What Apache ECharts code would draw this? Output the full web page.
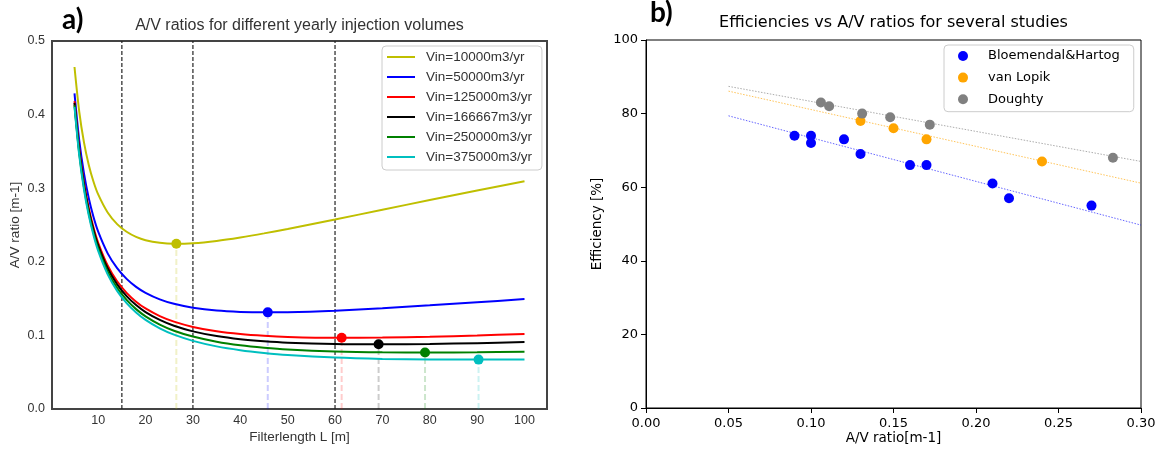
<!DOCTYPE html>
<html><head><meta charset="utf-8">
<script src="https://cdn.jsdelivr.net/npm/echarts@6/dist/echarts.min.js"></script>
<style>html,body{margin:0;padding:0;background:#fff}#c{width:1160px;height:457px}</style>
</head><body><div id="c"></div>
<script>
// ---------- Panel a) data ----------
const filterLength = [5,6,7,8,9,10,12,14,16,18,20,23,26,30,35,40,45,50,60,70,80,90,100];
const volumeNames = ['Vin=10000m3/yr','Vin=50000m3/yr','Vin=125000m3/yr','Vin=166667m3/yr','Vin=250000m3/yr','Vin=375000m3/yr'];
const av10000  = [0.4647,0.4042,0.3623,0.3319,0.3091,0.2915,0.2669,0.2512,0.2408,0.2339,0.2294,0.2258,0.2245,0.2252,0.2284,0.2331,0.2386,0.2447,0.2575,0.2707,0.2839,0.2968,0.3094];
const av50000  = [0.4289,0.3650,0.3200,0.2866,0.2611,0.2409,0.2115,0.1913,0.1768,0.1660,0.1579,0.1490,0.1429,0.1376,0.1337,0.1319,0.1313,0.1315,0.1336,0.1369,0.1408,0.1450,0.1494];
const av125000 = [0.4183,0.3534,0.3074,0.2732,0.2468,0.2259,0.1950,0.1735,0.1578,0.1458,0.1366,0.1262,0.1187,0.1115,0.1056,0.1018,0.0994,0.0979,0.0967,0.0971,0.0982,0.0999,0.1019];
const av166667 = [0.4159,0.3507,0.3045,0.2701,0.2435,0.2224,0.1912,0.1694,0.1534,0.1412,0.1317,0.1210,0.1131,0.1055,0.0991,0.0948,0.0920,0.0901,0.0883,0.0879,0.0884,0.0895,0.0909];
const av250000 = [0.4129,0.3475,0.3010,0.2664,0.2396,0.2183,0.1867,0.1645,0.1482,0.1357,0.1259,0.1147,0.1064,0.0984,0.0914,0.0866,0.0833,0.0809,0.0782,0.0770,0.0768,0.0771,0.0779];
const av375000 = [0.4106,0.3449,0.2982,0.2634,0.2364,0.2149,0.1830,0.1605,0.1439,0.1312,0.1211,0.1096,0.1010,0.0926,0.0851,0.0799,0.0762,0.0734,0.0699,0.0681,0.0673,0.0671,0.0673];
const minL  = [26.5,45.8,61.4,69.2,79.0,90.3];
const minAV = [0.2245,0.1313,0.0967,0.0879,0.0768,0.0671];
const refLines = [15,30,60];
const xTicksA = [10,20,30,40,50,60,70,80,90,100];

// ---------- Panel b) data ----------
const studyNames = ['Bloemendal&Hartog','van Lopik','Doughty'];
const bhAV  = [0.09,0.10,0.10,0.12,0.13,0.16,0.17,0.21,0.22,0.27];
const bhEff = [74,74,72,73,69,66,66,61,57,55];
const vlAV  = [0.13,0.15,0.17,0.24];
const vlEff = [78,76,73,67];
const dAV   = [0.106,0.111,0.131,0.148,0.172,0.283];
const dEff  = [83,82,80,79,77,68];
const trendAV = [0.05,0.30];
const bhTrend = [79.4,49.7];
const vlTrend = [86.1,61.1];
const dTrend  = [87.4,67.0];

// ---------- build ----------
const colorsA = ['#bfbf00','#0000ff','#ff0000','#000000','#008000','#00bfbf'];
const fadedA  = ['rgba(191,191,0,0.22)','rgba(0,0,255,0.2)','rgba(255,0,0,0.2)','rgba(0,0,0,0.2)','rgba(0,128,0,0.2)','rgba(0,191,191,0.2)'];
const avSets = [av10000,av50000,av125000,av166667,av250000,av375000];
const zip = (xs, ys) => xs.map((x,i)=>[x, ys[i]]);
const FA = 'Liberation Sans', FB = 'DejaVu Sans';

const series = [];
refLines.forEach(x => series.push({
  type:'line', xAxisIndex:0, yAxisIndex:0, data:[[x,0],[x,0.5]], showSymbol:false, silent:true,
  lineStyle:{color:'#222', width:1.2, type:[4,2]}, z:1
}));
minL.forEach((x,i) => series.push({
  type:'line', xAxisIndex:0, yAxisIndex:0, data:[[x,0],[x,minAV[i]]], showSymbol:false, silent:true,
  lineStyle:{color:fadedA[i], width:2, type:[6,3]}, z:1
}));
avSets.forEach((arr,i) => series.push({
  name: volumeNames[i], type:'line', xAxisIndex:0, yAxisIndex:0, data: zip(filterLength, arr),
  smooth:0.3, showSymbol:false, lineStyle:{color:colorsA[i], width:2}, itemStyle:{color:colorsA[i]}, z:3
}));
series.push({
  type:'scatter', xAxisIndex:0, yAxisIndex:0, symbolSize:10, z:4,
  data: minL.map((x,i)=>({value:[x,minAV[i]], itemStyle:{color:colorsA[i], opacity:1}}))
});

const studyColors = ['#0000ff','#ffa500','#808080'];
const trendColors = ['rgba(0,0,255,0.6)','rgba(255,165,0,0.65)','rgba(128,128,128,0.65)'];
[bhTrend, vlTrend, dTrend].forEach((t,i) => series.push({
  type:'line', xAxisIndex:1, yAxisIndex:1, data: zip(trendAV, t), showSymbol:false, silent:true,
  lineStyle:{color:trendColors[i], width:1, type:[1.5,1.5]}, z:1
}));
[[bhAV,bhEff],[vlAV,vlEff],[dAV,dEff]].forEach((p,i) => series.push({
  name: studyNames[i], type:'scatter', xAxisIndex:1, yAxisIndex:1, data: zip(p[0], p[1]),
  symbolSize:10, itemStyle:{color:studyColors[i], opacity:1}, z:3
}));

const chart = echarts.init(document.getElementById('c'), null, {renderer:'canvas'});
chart.setOption({
  animation:false,
  backgroundColor:'#fff',
  grid:[
    {left:52, top:41, width:495, height:368, show:true, borderColor:'#444', borderWidth:2, backgroundColor:'transparent'},
    {left:646, top:40, width:495, height:368, show:true, borderColor:'#000', borderWidth:1, backgroundColor:'transparent'}
  ],
  xAxis:[
    {type:'value', gridIndex:0, min:0.25, max:104.75, axisLine:{show:false}, axisTick:{show:false}, splitLine:{show:false},
     axisLabel:{customValues:xTicksA, fontFamily:FA, fontSize:12.5, color:'#333', margin:5}},
    {type:'value', gridIndex:1, min:0, max:0.3, interval:0.05, axisLine:{show:true, lineStyle:{color:'#000', width:1}},
     axisTick:{show:true, length:5, lineStyle:{color:'#000'}}, splitLine:{show:false},
     axisLabel:{fontFamily:FB, fontSize:13, color:'#000', margin:9, formatter:v=>v.toFixed(2)}}
  ],
  yAxis:[
    {type:'value', gridIndex:0, min:0, max:0.5, interval:0.1, axisLine:{show:false}, axisTick:{show:false}, splitLine:{show:false},
     axisLabel:{fontFamily:FA, fontSize:12.5, color:'#333', margin:7, formatter:v=>v.toFixed(1)}},
    {type:'value', gridIndex:1, min:0, max:100, interval:20, axisLine:{show:true, lineStyle:{color:'#000', width:1}},
     axisTick:{show:true, length:5, lineStyle:{color:'#000'}}, splitLine:{show:false},
     axisLabel:{fontFamily:FB, fontSize:13, color:'#000', margin:8}}
  ],
  legend:[
    {data:volumeNames, orient:'vertical', left:382, top:46, padding:[4,10,6,5], itemGap:6,
     icon:'rect', itemWidth:28, itemHeight:2, backgroundColor:'#fff', borderColor:'#ccc', borderWidth:1, borderRadius:4,
     textStyle:{fontFamily:FA, fontSize:13.5, lineHeight:14, color:'#333', padding:[0,0,0,6]}, selectedMode:false},
    {data:studyNames, orient:'vertical', left:944, top:45, padding:[3.5,14,5,14], itemGap:6.6,
     icon:'circle', itemWidth:10, itemHeight:10, backgroundColor:'#fff', borderColor:'#ccc', borderWidth:1, borderRadius:4,
     textStyle:{fontFamily:FB, fontSize:13, lineHeight:15, color:'#000', padding:[0,0,0,15]}, selectedMode:false}
  ],
  graphic:[
    {type:'text', x:62, y:20, style:{text:'a)', font:'bold 28px Lato', fill:'#000', verticalAlign:'middle'}},
    {type:'text', x:650, y:13, style:{text:'b)', font:'bold 28px Lato', fill:'#000', verticalAlign:'middle'}},
    {type:'text', x:299.5, y:26, style:{text:'A/V ratios for different yearly injection volumes', font:'16px "Liberation Sans"', fill:'#333', align:'center', verticalAlign:'middle'}},
    {type:'text', x:893.5, y:23, style:{text:'Efficiencies vs A/V ratios for several studies', font:'16px "DejaVu Sans"', fill:'#000', align:'center', verticalAlign:'middle'}},
    {type:'text', x:15, y:225, rotation:Math.PI/2, style:{text:'A/V ratio [m-1]', font:'13.5px "Liberation Sans"', fill:'#333', align:'center', verticalAlign:'middle'}},
    {type:'text', x:299.5, y:437, style:{text:'Filterlength L [m]', font:'13.5px "Liberation Sans"', fill:'#333', align:'center', verticalAlign:'middle'}},
    {type:'text', x:597, y:224, rotation:Math.PI/2, style:{text:'Efficiency [%]', font:'13.5px "DejaVu Sans"', fill:'#000', align:'center', verticalAlign:'middle'}},
    {type:'text', x:893.5, y:438, style:{text:'A/V ratio[m-1]', font:'13.5px "DejaVu Sans"', fill:'#000', align:'center', verticalAlign:'middle'}}
  ],
  series: series
});
</script>
</body></html>
